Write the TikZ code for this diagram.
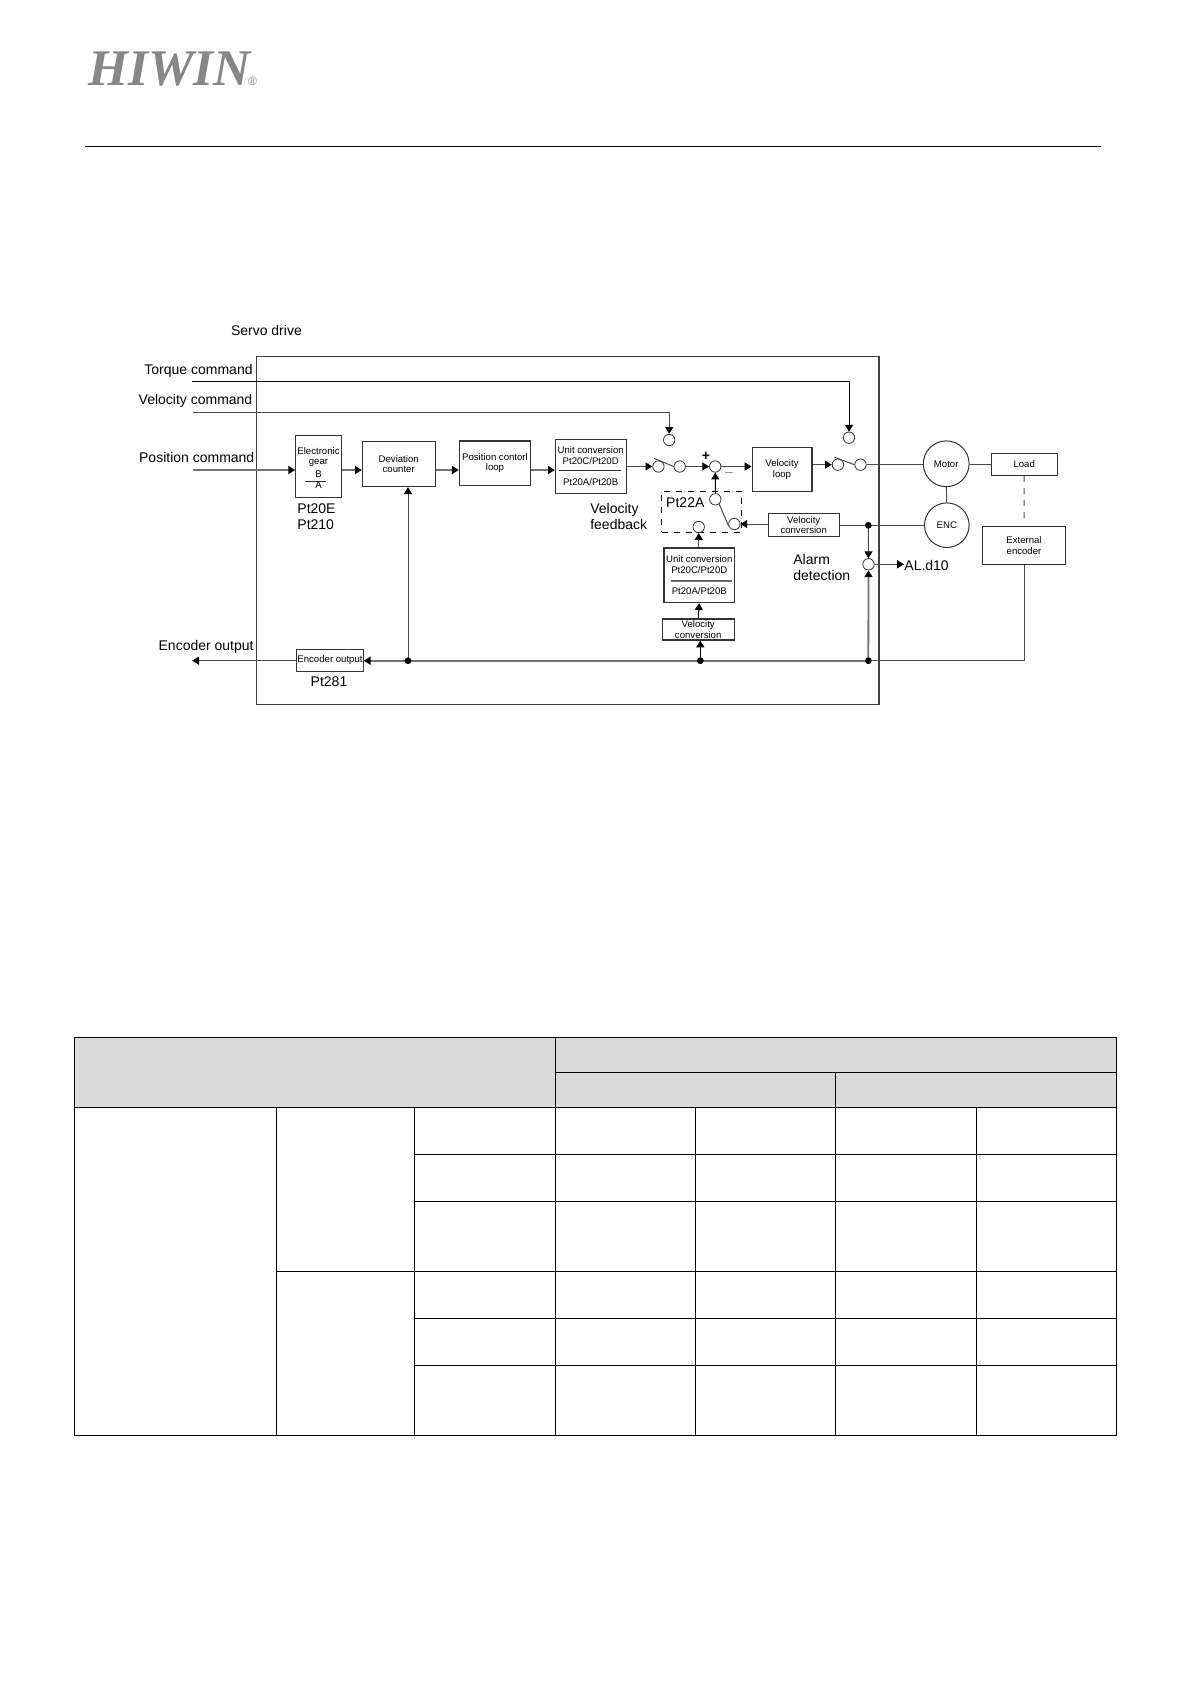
\documentclass[tikz,border=0pt]{standalone}
\usepackage{fontspec}
\setmainfont{Liberation Sans}
\newfontfamily\logofont{Liberation Serif}
\usetikzlibrary{arrows.meta}
\tikzset{
	>={Triangle[length=3.4pt,width=4pt,color=black,fill=black]},
	sig/.style={draw=black!70, line width=0.5pt},
	heavy/.style={draw=black!55, line width=0.9pt},
	block/.style={draw=black!80, line width=0.55pt, fill=white, inner sep=0pt, align=center, font=\fontsize{4.8}{5.25}\selectfont},
	port/.style={circle, draw=black!80, line width=0.4pt, fill=white, inner sep=0pt, minimum size=5.7pt},
	dot/.style={circle, fill=black, inner sep=0pt, minimum size=3.4pt},
	motorc/.style={circle, draw=black!80, line width=0.5pt, fill=white, inner sep=0pt, font=\fontsize{4.8}{5.25}\selectfont},
	caption/.style={inner sep=0pt, align=left, font=\fontsize{7}{8}\selectfont},
	grid/.style={draw=black, line width=0.5pt}
}

\begin{document}
\begin{tikzpicture}[x=0.5pt, y=-0.5pt]
		\useasboundingbox [fill=white] (0,0) rectangle (1191,1684);

		\node (logo) [inner sep=0pt, text=black!47, font=\fontsize{25.7}{26}\logofont\bfseries\itshape\selectfont] at (169.5,69) {HIWIN};
		\node (logoreg) [inner sep=0pt, text=black!47, font=\fontsize{6}{6}\selectfont] at (252.5,81.5) {®};
		\draw [draw=black, line width=0.6pt] (85,146.3) -- (1101,146.3);

		\node (drive) [draw=black!75, line width=0.55pt, minimum width=311.25pt, minimum height=174.2pt, inner sep=0pt] at (567.75,530.5) {};
		\node (drivename) [caption] at (266.4,330.7) {Servo drive};
		\node (torquename) [caption, anchor=east] at (253,371) {Torque command};
		\node (velname) [caption, anchor=east] at (252.7,401) {Velocity command};
		\node (posname) [caption, anchor=east] at (254.7,457.7) {Position command};
		\node (encname) [caption, anchor=east] at (254,647) {Encoder output};

		\node (gear) [block, minimum width=22.8pt, minimum height=30.8pt] at (318.5,466.5) {\rule{0pt}{5pt}Electronic\\gear\\[1.2pt]B\\[0.2pt]A};
		\node (dev) [block, minimum width=36.35pt, minimum height=22.35pt] at (398.7,464.3) {Deviation\\counter};
		\node (loop) [block, minimum width=35.7pt, minimum height=22.15pt] at (495,463.2) {Position contorl\\loop};
		\node (unita) [block, minimum width=35.35pt, minimum height=27pt] at (590.7,466.3) {Unit conversion\\Pt20C/Pt20D\\[5.4pt]Pt20A/Pt20B};
		\node (vloop) [block, minimum width=29.95pt, minimum height=22pt] at (782,469.7) {Velocity\\loop};
		\node (vconva) [block, minimum width=35.65pt, minimum height=11.3pt] at (803.7,525) {Velocity\\conversion};
		\node (unitb) [block, minimum width=35.35pt, minimum height=27.35pt] at (699.3,575.3) {Unit conversion\\Pt20C/Pt20D\\[5.4pt]Pt20A/Pt20B};
		\node (vconvb) [block, minimum width=35.85pt, minimum height=10.5pt] at (698.2,629.5) {Velocity\\conversion};
		\node (encout) [block, minimum width=33.2pt, minimum height=10.85pt] at (330,660.2) {Encoder output};
		\node (load) [block, minimum width=33.15pt, minimum height=11pt] at (1024.2,464.3) {Load};
		\node (extenc) [block, minimum width=41.3pt, minimum height=19.2pt] at (1024,545.5) {External\\encoder};
		\node (motor) [motorc, minimum size=22.9pt] at (946.2,463.8) {Motor};
		\node (enc) [motorc, minimum size=22.3pt] at (946.8,525.2) {ENC};

		\node (pt22box) [draw=black, dashed, line width=0.5pt, minimum width=39.8pt, minimum height=20.5pt, inner sep=0pt] at (701.5,511.8) {};

		\node (velport) [port] at (669.2,440) {};
		\node (torqueport) [port] at (849,437.7) {};
		\node (swaleft) [port] at (658.4,466.5) {};
		\node (swaright) [port] at (679.7,466.5) {};
		\node (sum) [port] at (715.2,466.5) {};
		\node (swbleft) [port] at (837.9,464.7) {};
		\node (swbright) [port] at (860.5,464.7) {};
		\node (pt22top) [port] at (715.3,499.3) {};
		\node (pt22right) [port] at (734.3,524) {};
		\node (pt22left) [port] at (698.7,527) {};
		\node (alarmport) [port] at (868.5,564.3) {};

		\coordinate (devjoin) at (408,660.7);
		\coordinate (convjoin) at (700.3,660.7);
		\coordinate (busjoin) at (868.3,660.7);
		\coordinate (encjoin) at (868.3,525.3);
		\coordinate (torquein) at (192.3,381.3);
		\coordinate (velin) at (192.6,412.7);
		\coordinate (posin) at (192.6,470);
		\coordinate (encoutend) at (192.2,660.7);
		\coordinate (swabase) at (654,458.3);
		\coordinate (swbbase) at (834.5,457.3);

		\draw [->, draw=black, line width=0.5pt] (torquein) -| (torqueport);
		\draw [->, sig] (velin) -| (velport);
		\draw [->, heavy] (posin) -- (gear.west |- posin);
		\draw [->, heavy] (gear.east |- posin) -- (dev.west |- posin);
		\draw [->, heavy] (dev.east |- posin) -- (loop.west |- posin);
		\draw [->, heavy] (loop.east |- posin) -- (unita.west |- posin);
		\draw [->, sig] (unita.east |- swaleft) -- (swaleft);
		\draw [->, sig] (swaright) -- (sum);
		\draw [->, sig] (sum) -- (vloop.west |- sum);
		\draw [->, sig] (vloop.east |- swbleft) -- (swbleft);
		\draw [sig] (swbright) -- (motor.west |- swbright);
		\draw [sig] (swabase) -- (swaright.west);
		\draw [sig] (swbbase) -- (swbright.west);
		\draw [sig] (motor.east |- load) -- (load.west);
		\draw [sig] (motor) -- (enc);
		\draw [sig, dashed] (load.south) -- ([yshift=2pt]extenc.north);
		\draw [->, draw=black, line width=0.5pt] (pt22top) -- (sum);
		\draw [sig] (pt22top.-50) -- (pt22right.200);
		\draw [->, sig] (vconva.west |- pt22right) -- (pt22right);
		\draw [sig] (vconva.east |- encjoin) -- (enc.west |- encjoin);
		\draw [->, sig] (encjoin) -- (alarmport);
		\draw [->, heavy] (busjoin) -- (alarmport);
		\draw [->, sig] (unitb.north -| pt22left) -- (pt22left);
		\draw [->, draw=black, line width=0.5pt] (vconvb.north) -- (unitb.south);
		\draw [->, draw=black, line width=0.5pt] (convjoin) -- (convjoin |- vconvb.south);
		\draw [->, sig] (devjoin) -- (devjoin |- dev.south);
		\draw [->, heavy] (busjoin) -- (encout.east |- busjoin);
		\draw [sig] (extenc.south) |- (busjoin);
		\draw [->, sig] (encout.west |- encoutend) -- (encoutend);

		\node (devdot) [dot] at (devjoin) {};
		\node (convdot) [dot] at (convjoin) {};
		\node (busdot) [dot] at (busjoin) {};
		\node (encdot) [dot] at (encjoin) {};

		\draw [draw=black!80, line width=0.5pt] (559,470) -- (621,470);
		\draw [draw=black!60, line width=0.7pt] (670.7,581) -- (731.7,581);
		\draw [draw=black!80, line width=0.4pt] (305,481.3) -- (326,481.3);

		\node (aldten) [caption, anchor=west] at (904,565.5) {AL.d10};
		\draw [->, sig] (alarmport) -- (aldten.west |- alarmport);
		\node (plus) [caption, font=\fontsize{7}{8}\bfseries\selectfont] at (706,456) {+};
		\node (minus) [caption, text=black!45] at (729,474.7) {–};
		\node (ptgear) [caption] at (316.5,516.5) {Pt20E\\[0.1pt]Pt210};
		\node (ptfbk) [caption, font=\fontsize{7}{8}\selectfont] at (618.7,516) {Velocity\\feedback};
		\node (ptsel) [caption] at (685.3,502.7) {Pt22A};
		\node (ptalarm) [caption] at (821.8,567.5) {Alarm\\detection};
		\node (ptenc) [caption] at (329,682) {Pt281};

		\fill [black!15] (74.5,1037.3) rectangle (1116,1107.3);
		\draw [grid] (74.5,1037.3) rectangle (1116,1435.3);
		\draw [grid] (74.5,1107.3) -- (1116,1107.3);
		\draw [grid] (555,1072.3) -- (1116,1072.3);
		\draw [grid] (414.5,1154.3) -- (1116,1154.3);
		\draw [grid] (414.5,1201.3) -- (1116,1201.3);
		\draw [grid] (276,1271.3) -- (1116,1271.3);
		\draw [grid] (414.5,1318.3) -- (1116,1318.3);
		\draw [grid] (414.5,1365.3) -- (1116,1365.3);
		\draw [grid] (276,1107.3) -- (276,1435.3);
		\draw [grid] (414.5,1107.3) -- (414.5,1435.3);
		\draw [grid] (555,1037.3) -- (555,1435.3);
		\draw [grid] (695.4,1107.3) -- (695.4,1435.3);
		\draw [grid] (835.5,1072.3) -- (835.5,1435.3);
		\draw [grid] (976.7,1107.3) -- (976.7,1435.3);
	\end{tikzpicture}
\end{document}
